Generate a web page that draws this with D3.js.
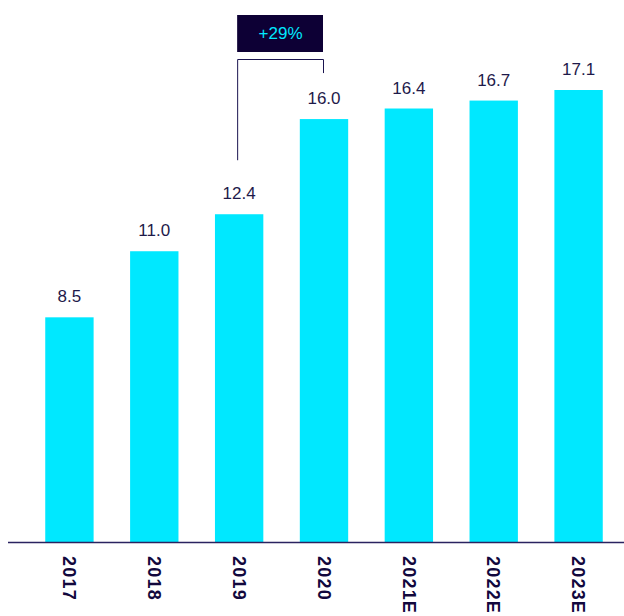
<!DOCTYPE html>
<html>
<head>
<meta charset="utf-8">
<script src="https://cdn.jsdelivr.net/npm/d3@7"></script>
<style>
  body { margin: 0; background: #fff; }
  svg { display: block; font-family: "Liberation Sans", Arial, sans-serif; }
</style>
</head>
<body>
<div id="chart"></div>
<script>
const years = ["2017", "2018", "2019", "2020", "2021E", "2022E", "2023E"];
const values = [8.5, 11.0, 12.4, 16.0, 16.4, 16.7, 17.1];
const growthLabel = "+29%";
const growthFrom = "2019", growthTo = "2020";

const width = 624, height = 616;
const baseY = 542;

const svg = d3.select('#chart').append('svg')
    .attr('width', width)
    .attr('height', height);

const x = d3.scaleBand()
    .domain(years)
    .range([27, 621])
    .paddingInner(0.43)
    .paddingOuter(0.215);

const y = d3.scaleLinear()
    .domain([0, 17.1])
    .range([baseY, 90]);

const data = years.map((d, i) => ({ year: d, value: values[i] }));

// bars
svg.selectAll('rect.bar')
    .data(data)
    .join('rect')
    .attr('class', 'bar')
    .attr('x', d => x(d.year))
    .attr('y', d => y(d.value))
    .attr('width', x.bandwidth())
    .attr('height', d => baseY - y(d.value))
    .attr('fill', '#00e8ff');

// value labels
svg.selectAll('text.val')
    .data(data)
    .join('text')
    .attr('class', 'val')
    .attr('x', d => x(d.year) + x.bandwidth() / 2)
    .attr('y', d => y(d.value) - 15)
    .attr('text-anchor', 'middle')
    .style('font-size', '17px')
    .style('fill', '#1e1a4a')
    .text(d => d.value.toFixed(1));

// baseline
svg.append('line')
    .attr('x1', 8).attr('x2', width)
    .attr('y1', baseY + 0.5).attr('y2', baseY + 0.5)
    .attr('stroke', '#2a2360')
    .attr('stroke-width', 1.3);

// rotated year labels
svg.selectAll('text.year')
    .data(years)
    .join('text')
    .attr('class', 'year')
    .attr('transform', d => `translate(${x(d) + x.bandwidth() / 2},556) rotate(90)`)
    .attr('dy', '0.35em')
    .style('font-size', '18px')
    .style('font-weight', 'bold')
    .style('letter-spacing', '1.2px')
    .style('fill', '#12083d')
    .text(d => d);

// growth bracket
const xa = x(growthFrom) + x.bandwidth() / 2;
const xb = x(growthTo) + x.bandwidth() / 2;
const vA = values[years.indexOf(growthFrom)];
const vB = values[years.indexOf(growthTo)];
const bracketY = 59.5;

svg.append('path')
    .attr('d', `M${xa - 1.5},${y(vA) - 54} V${bracketY} H${xb - 0.5} V${y(vB) - 46}`)
    .attr('fill', 'none')
    .attr('stroke', '#1a1450')
    .attr('stroke-width', 1);

svg.append('rect')
    .attr('x', xa - 2)
    .attr('y', 15)
    .attr('width', xb - xa + 1)
    .attr('height', 37)
    .attr('fill', '#0d0035');

svg.append('text')
    .attr('x', (xa + xb) / 2 - 1)
    .attr('y', 39)
    .attr('text-anchor', 'middle')
    .style('font-size', '17px')
    .style('fill', '#00e8ff')
    .text(growthLabel);
</script>
</body>
</html>
